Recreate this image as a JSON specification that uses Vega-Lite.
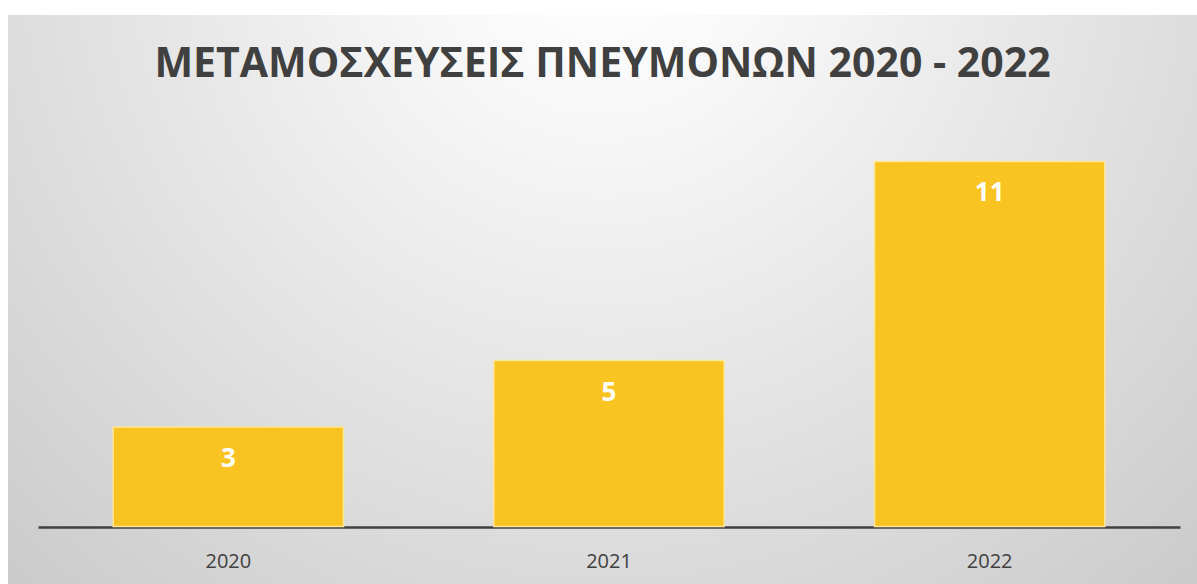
{
  "$schema": "https://vega.github.io/schema/vega-lite/v6.json",
  "width": 1189,
  "height": 569,
  "autosize": {"type": "none"},
  "padding": {"left": 8, "top": 15, "right": 0, "bottom": 0},
  "background": "#ffffff",
  "view": {
    "fill": {
      "gradient": "radial",
      "x1": 0.5, "y1": 0.2, "r1": 0,
      "x2": 0.5, "y2": 0.2, "r2": 0.85,
      "stops": [
        {"offset": 0, "color": "#ffffff"},
        {"offset": 0.15, "color": "#f9f9f9"},
        {"offset": 1, "color": "#c2c2c2"}
      ]
    },
    "stroke": null
  },
  "title": {
    "text": "ΜΕΤΑΜΟΣΧΕΥΣΕΙΣ ΠΝΕΥΜΟΝΩΝ 2020 - 2022",
    "font": "Open Sans",
    "fontSize": 41,
    "fontWeight": "bold",
    "color": "#404040",
    "anchor": "middle",
    "baseline": "alphabetic",
    "offset": -71,
    "dy": 32
  },
  "data": {
    "values": [
      {"year": "2020", "value": 3},
      {"year": "2021", "value": 5},
      {"year": "2022", "value": 11}
    ]
  },
  "encoding": {
    "x": {
      "field": "year",
      "type": "nominal",
      "sort": null,
      "scale": {"range": [30, 1172], "paddingInner": 0.395, "paddingOuter": 0.1975},
      "axis": {
        "title": null,
        "offset": -57,
        "labelAngle": 0,
        "ticks": false,
        "tickSize": 0,
        "labelPadding": 24,
        "labelFont": "Open Sans",
        "labelFontSize": 20,
        "labelColor": "#404040",
        "domainColor": "#404040",
        "domainWidth": 2.5,
        "grid": false
      }
    },
    "y": {
      "field": "value",
      "type": "quantitative",
      "scale": {"domain": [-1.73, 15.41], "nice": false, "zero": false},
      "axis": null
    }
  },
  "layer": [
    {
      "mark": {"type": "bar", "color": "#f9c422", "stroke": "#fde59a", "strokeWidth": 1.5}
    },
    {
      "mark": {
        "type": "text",
        "baseline": "top",
        "dy": 19,
        "font": "Open Sans",
        "fontSize": 26,
        "fontWeight": "bold",
        "color": "#ffffff"
      },
      "encoding": {"text": {"field": "value", "type": "quantitative"}}
    }
  ]
}
